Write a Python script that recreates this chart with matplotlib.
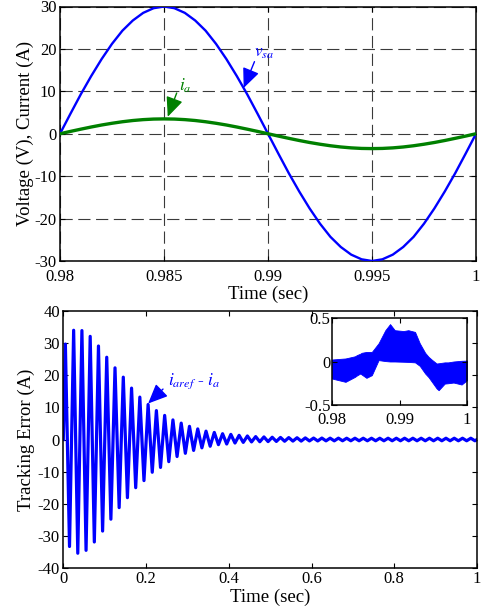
import matplotlib
matplotlib.use("Agg")
import matplotlib.pyplot as plt
import numpy as np

plt.rcParams['font.family'] = ['Liberation Serif', 'DejaVu Serif']
plt.rcParams['mathtext.fontset'] = 'stix'
plt.rcParams['axes.unicode_minus'] = False

# ---------------- data ----------------
# top panel, sampled every 0.0005 s from 0.98 to 1.0
t_top = [0.98 + 0.0005 * k for k in range(41)]
v_sa = [0.0, 4.7, 9.3, 13.6, 17.6, 21.2, 24.3, 26.7, 28.5, 29.6, 30.0,
        29.6, 28.5, 26.7, 24.3, 21.2, 17.6, 13.6, 9.3, 4.7, 0.0,
        -4.7, -9.3, -13.6, -17.6, -21.2, -24.3, -26.7, -28.5, -29.6, -30.0,
        -29.6, -28.5, -26.7, -24.3, -21.2, -17.6, -13.6, -9.3, -4.7, 0.0]
i_a = [0.0, 0.55, 1.08, 1.59, 2.06, 2.47, 2.83, 3.12, 3.33, 3.46, 3.5,
       3.46, 3.33, 3.12, 2.83, 2.47, 2.06, 1.59, 1.08, 0.55, 0.0,
       -0.55, -1.08, -1.59, -2.06, -2.47, -2.83, -3.12, -3.33, -3.46, -3.5,
       -3.46, -3.33, -3.12, -2.83, -2.47, -2.06, -1.59, -1.08, -0.55, 0.0]

# bottom panel: tracking error peaks (t = 0.005 + 0.02k) and troughs (t = 0.015 + 0.02k)
pos_peaks = [29.7, 34.0, 33.9, 32.1, 29.1, 25.6, 22.3, 19.4, 16.0, 13.2,
             10.9, 9.0, 7.5, 6.1, 5.1, 4.1, 3.3, 2.6, 2.2, 1.8,
             1.6, 1.3, 1.1, 0.9, 0.8, 0.7, 0.65, 0.6, 0.55, 0.5,
             0.45, 0.45, 0.42, 0.42, 0.4, 0.4, 0.4, 0.4, 0.4, 0.4,
             0.4, 0.4, 0.4, 0.4, 0.4, 0.4, 0.4, 0.4, 0.4, 0.4]
neg_peaks = [-33.3, -35.4, -34.5, -31.9, -28.5, -24.8, -21.2, -18.1, -15.0, -12.8,
             -10.2, -8.7, -6.9, -5.3, -4.3, -3.4, -2.6, -2.1, -1.6, -1.4,
             -1.1, -0.9, -0.75, -0.7, -0.65, -0.6, -0.55, -0.5, -0.5, -0.45,
             -0.45, -0.42, -0.42, -0.4, -0.4, -0.4, -0.4, -0.4, -0.4, -0.4,
             -0.4, -0.4, -0.4, -0.4, -0.4, -0.4, -0.4, -0.4, -0.4, -0.4]

# inset (0.98 .. 1.0): upper and lower envelope of the switching band
inset_t = [0.9800, 0.9820, 0.9834, 0.9837, 0.9842, 0.9844, 0.9851, 0.9859, 0.9869,
           0.9879, 0.9886, 0.9893, 0.9906, 0.9913, 0.9923, 0.9930, 0.9938,
           0.9943, 0.9948, 0.9955, 0.9958, 0.9967, 0.9972, 0.9980, 0.9987,
           0.9992, 1.0000]
inset_up = [0.023, 0.035, 0.06, 0.074, 0.09, 0.10, 0.11, 0.11, 0.21,
            0.36, 0.43, 0.36, 0.35, 0.36, 0.34, 0.21, 0.10,
            0.054, 0.02, -0.023, -0.02, -0.01, -0.01, 0.0, 0.005,
            0.008, 0.01]
inset_lo = [-0.196, -0.234, -0.177, -0.16, -0.138, -0.15, -0.188, -0.157, 0.016,
            0.005, 0.0, 0.0, -0.003, -0.005, -0.01, -0.05, -0.138,
            -0.18, -0.234, -0.31, -0.33, -0.254, -0.25, -0.242, -0.255,
            -0.265, -0.215]

top_xticks = [0.98, 0.985, 0.99, 0.995, 1.0]
top_xlabels = ['0.98', '0.985', '0.99', '0.995', '1']
top_yticks = [-30, -20, -10, 0, 10, 20, 30]
bot_xticks = [0, 0.2, 0.4, 0.6, 0.8, 1.0]
bot_xlabels = ['0', '0.2', '0.4', '0.6', '0.8', '1']
bot_yticks = [-40, -30, -20, -10, 0, 10, 20, 30, 40]
ins_xticks = [0.98, 0.99, 1.0]
ins_xlabels = ['0.98', '0.99', '1']
ins_yticks = [-0.5, 0, 0.5]
ins_ylabels = ['-0.5', '0', '0.5']

BLUE = '#0000ff'
GREEN = '#008000'

# ---------------- figure ----------------
fig = plt.figure(figsize=(4.87, 6.12), dpi=100)

def style(ax, fs=12, pad=2.5):
    ax.tick_params(direction='in', top=True, right=True, length=3.5,
                   width=0.8, labelsize=fs, pad=pad)
    for s in ax.spines.values():
        s.set_linewidth(1.1)

# top panel
ax1 = fig.add_axes([60 / 487, 1 - 261 / 612, 416 / 487, 254.5 / 612])
ax1.plot(t_top, v_sa, color=BLUE, lw=1.7, zorder=3)
ax1.plot(t_top, i_a, color=GREEN, lw=2.4, zorder=3)
ax1.set_xlim(0.98, 1.0)
ax1.set_ylim(-30, 30)
ax1.set_xticks(top_xticks)
ax1.set_xticklabels(top_xlabels)
ax1.set_yticks(top_yticks)
ax1.grid(True, linestyle=(0, (11, 5)), linewidth=0.8, color='#3a3a3a')
ax1.set_axisbelow(True)
style(ax1)
ax1.tick_params(axis='x', pad=6)
ax1.set_xlabel('Time (sec)', fontsize=13.5, labelpad=0.5)
ax1.set_ylabel('Voltage (V), Current (A)', fontsize=13.5, labelpad=0)

arrow_kw = dict(arrowstyle='-|>,head_length=0.8,head_width=0.35', lw=1.0,
                mutation_scale=15, shrinkA=0, shrinkB=0)
ax1.annotate('', xy=(0.98883, 10.8), xytext=(0.98935, 17.0),
             arrowprops=dict(color=BLUE, **arrow_kw))
ax1.text(0.98932, 19.0, r'$v_{sa}$', color=BLUE, fontsize=12.5, ha='left', va='center')
ax1.annotate('', xy=(0.98518, 4.0), xytext=(0.98561, 9.6),
             arrowprops=dict(color=GREEN, **arrow_kw))
ax1.text(0.98572, 11.4, r'$i_{a}$', color=GREEN, fontsize=12.5, ha='left', va='center')

# bottom panel
ax2 = fig.add_axes([63.3 / 487, 1 - 568 / 612, 413.7 / 487, 257 / 612])
tb = [0.0]
yb = [0.0]
for k in range(len(pos_peaks)):
    tb.append(0.005 + 0.02 * k)
    yb.append(pos_peaks[k])
    tb.append(0.015 + 0.02 * k)
    yb.append(neg_peaks[k])
tb.append(1.0)
yb.append(0.0)
ax2.plot(tb, yb, color=BLUE, lw=2.3, solid_joinstyle='round')
ax2.set_xlim(0, 1)
ax2.set_ylim(-40, 40)
ax2.set_xticks(bot_xticks)
ax2.set_xticklabels(bot_xlabels)
ax2.set_yticks(bot_yticks)
style(ax2)
ax2.set_xlabel('Time (sec)', fontsize=13.5, labelpad=1)
ax2.set_ylabel('Tracking Error (A)', fontsize=13.5, labelpad=2)
ax2.annotate('', xy=(0.205, 11.2), xytext=(0.241, 15.7),
             arrowprops=dict(color=BLUE, **arrow_kw))
ax2.text(0.253, 18.0, r'$i_{aref}$ - $i_{a}$', color=BLUE, fontsize=12.5,
         ha='left', va='center')

# inset
ax3 = fig.add_axes([332 / 487, 1 - 405 / 612, 135 / 487, 87 / 612])
ax3.fill_between(inset_t, inset_lo, inset_up, color=BLUE, lw=0.6, edgecolor=BLUE)
ax3.set_xlim(0.98, 1.0)
ax3.set_ylim(-0.5, 0.5)
ax3.set_xticks(ins_xticks)
ax3.set_xticklabels(ins_xlabels)
ax3.set_yticks(ins_yticks)
ax3.set_yticklabels(ins_ylabels)
style(ax3, fs=12, pad=1)
ax3.tick_params(axis='x', pad=5)

fig.savefig('out.png', dpi=100)
